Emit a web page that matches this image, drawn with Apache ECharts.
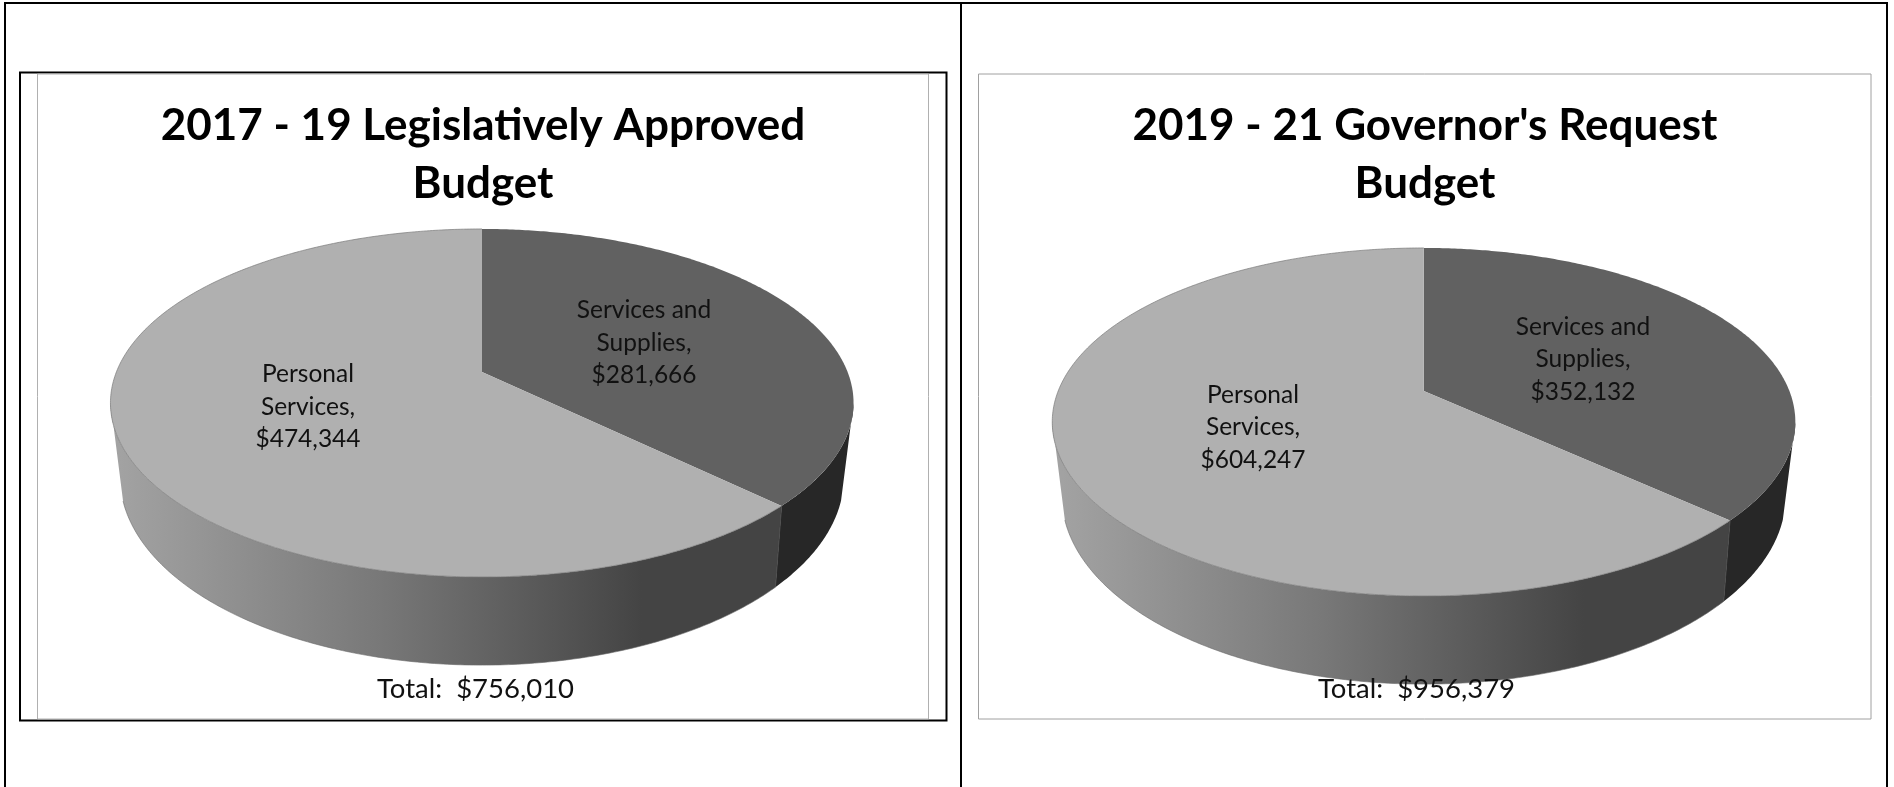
<!DOCTYPE html>
<html>
<head>
<meta charset="utf-8">
<style>
  html, body { margin: 0; padding: 0; background: #fff; }
  #main { width: 1894px; height: 787px; }
</style>
<script src="https://cdn.jsdelivr.net/npm/echarts@6/dist/echarts.min.js"></script>
</head>
<body>
<div id="main"></div>
<script>
// chart data
var categories = ['Services and Supplies', 'Personal Services'];
var labelLines = [['Services and', 'Supplies,'], ['Personal', 'Services,']];
var values1719 = [281666, 474344];
var values1921 = [352132, 604247];
var titles = ["2017 - 19 Legislatively Approved\nBudget", "2019 - 21 Governor's Request\nBudget"];

var topColors = ['#616161', '#b0b0b0'];
var FONT = 'Lato';
// the rim outline runs straight between these angles on the top and bottom discs
var TOP_RIGHT = 1.75;
var TOP_LEFT = 4.54;
var BASE_RIGHT = 1.88;
var BASE_LEFT = 4.40;

function money(v) {
  return '$' + v.toLocaleString('en-US');
}

// perspective circle: angle is clockwise from the top, k tilts the far side away
function onDisc(d, a) {
  var w = 1 + d.k * Math.cos(a);
  return [d.cx + d.rx * Math.sin(a) / w, d.y + -d.ry * Math.cos(a) / w];
}

function arc(d, from, to) {
  var pts = [];
  var n = Math.max(8, Math.ceil(Math.abs(to - from) / 0.01));
  for (var i = 0; i <= n; i++) {
    pts.push(onDisc(d, from + (to - from) * i / n));
  }
  return pts;
}

function pieSeries(values, layout) {
  var total = values.reduce(function (a, b) { return a + b; }, 0);
  var top = { cx: layout.cx, y: layout.apex, rx: 365.6, ry: 168.5, k: 0.178 };
  var base = { cx: layout.cx, y: layout.apex + 70, rx: 355.5, ry: 181.4, k: 0.187 };
  var sideFill = new echarts.graphic.LinearGradient(layout.cx - 362, 0, layout.cx + 160, 0, [
    { offset: 0, color: '#a2a2a2' },
    { offset: 0.5, color: '#787878' },
    { offset: 1, color: '#444444' }
  ], true);

  return {
    type: 'custom',
    coordinateSystem: 'none',
    silent: true,
    animation: false,
    clip: false,
    data: values.map(function (v) { return [v]; }),
    renderItem: function (params, api) {
      var i = params.dataIndex;
      var before = 0;
      for (var j = 0; j < i; j++) before += values[j];
      var start = before / total * Math.PI * 2;
      var end = (before + api.value(0)) / total * Math.PI * 2;
      var kids = [];

      // rim first, only the part facing the viewer
      var topArc = arc(top, Math.max(start, TOP_RIGHT), Math.min(end, TOP_LEFT));
      var baseArc = arc(base, Math.max(start, BASE_RIGHT), Math.min(end, BASE_LEFT));
      kids.push({
        type: 'polygon',
        shape: { points: topArc.concat(baseArc.slice().reverse()) },
        style: { fill: i === 0 ? '#272727' : sideFill }
      });
      if (i === 1) {
        kids.push({
          type: 'polyline',
          shape: { points: baseArc },
          style: { fill: null, stroke: '#6a6a6a', lineWidth: 0.6 }
        });
      }
      if (i === 0) {
        kids.push({
          type: 'line',
          shape: {
            x1: onDisc(top, end)[0], y1: onDisc(top, end)[1],
            x2: onDisc(base, end)[0], y2: onDisc(base, end)[1]
          },
          style: { stroke: '#555555', lineWidth: 1 }
        });
      }

      // slice face
      kids.push({
        type: 'polygon',
        shape: { points: [[layout.cx, layout.apex]].concat(arc(top, start, end)) },
        style: { fill: topColors[i] }
      });
      if (i === 1) {
        kids.push({
          type: 'polyline',
          shape: { points: arc(top, start, end) },
          style: { fill: null, stroke: '#7a7a7a', lineWidth: 0.7 }
        });
      }

      kids.push({
        type: 'text',
        style: {
          x: layout.labels[i][0],
          y: layout.labels[i][1],
          text: labelLines[i].concat(money(api.value(0))).join('\n'),
          font: '400 24.5px ' + FONT,
          lineHeight: 32.5,
          fill: '#111111',
          align: 'center',
          verticalAlign: 'middle'
        }
      });
      return { type: 'group', children: kids };
    }
  };
}

function frame(x, y, w, h, color, width) {
  return {
    type: 'rect',
    silent: true,
    z: 0,
    shape: { x: x, y: y, width: w, height: h },
    style: { fill: null, stroke: color, lineWidth: width }
  };
}

function rule(x1, y1, x2, y2) {
  return {
    type: 'line',
    silent: true,
    z: 0,
    shape: { x1: x1, y1: y1, x2: x2, y2: y2 },
    style: { stroke: '#000000', lineWidth: 2 }
  };
}

function totalText(x, values) {
  var sum = values.reduce(function (a, b) { return a + b; }, 0);
  return {
    type: 'text',
    silent: true,
    z: 10,
    style: {
      x: x,
      y: 689,
      text: 'Total:  ' + money(sum),
      font: '400 27.5px ' + FONT,
      fill: '#111111',
      align: 'center',
      verticalAlign: 'middle'
    }
  };
}

function titleBlock(text, x) {
  return {
    text: text,
    left: x,
    top: 96.5,
    padding: 0,
    textAlign: 'center',
    textStyle: { fontFamily: FONT, fontWeight: 700, fontSize: 44, lineHeight: 58, color: '#000000' }
  };
}

var myChart = echarts.init(document.getElementById('main'), null, { renderer: 'canvas' });

myChart.setOption({
  animation: false,
  backgroundColor: '#ffffff',
  title: [titleBlock(titles[0], 483), titleBlock(titles[1], 1425)],
  graphic: [
    rule(4, 3, 1888, 3),
    rule(5, 2, 5, 787),
    rule(961, 2, 961, 787),
    rule(1887, 2, 1887, 787),
    frame(20, 72.5, 926.5, 648, '#000000', 2),
    frame(37.5, 74, 891, 645, '#b0b0b0', 1),
    frame(978.5, 74, 892.5, 645, '#a0a0a0', 1),
    totalText(475.5, values1719),
    totalText(1416.5, values1921)
  ],
  series: [
    pieSeries(values1719, { cx: 482, apex: 372, labels: [[644, 343], [308, 407]] }),
    pieSeries(values1921, { cx: 1423.8, apex: 391, labels: [[1583, 359.5], [1253, 427.5]] })
  ]
});
</script>
</body>
</html>
